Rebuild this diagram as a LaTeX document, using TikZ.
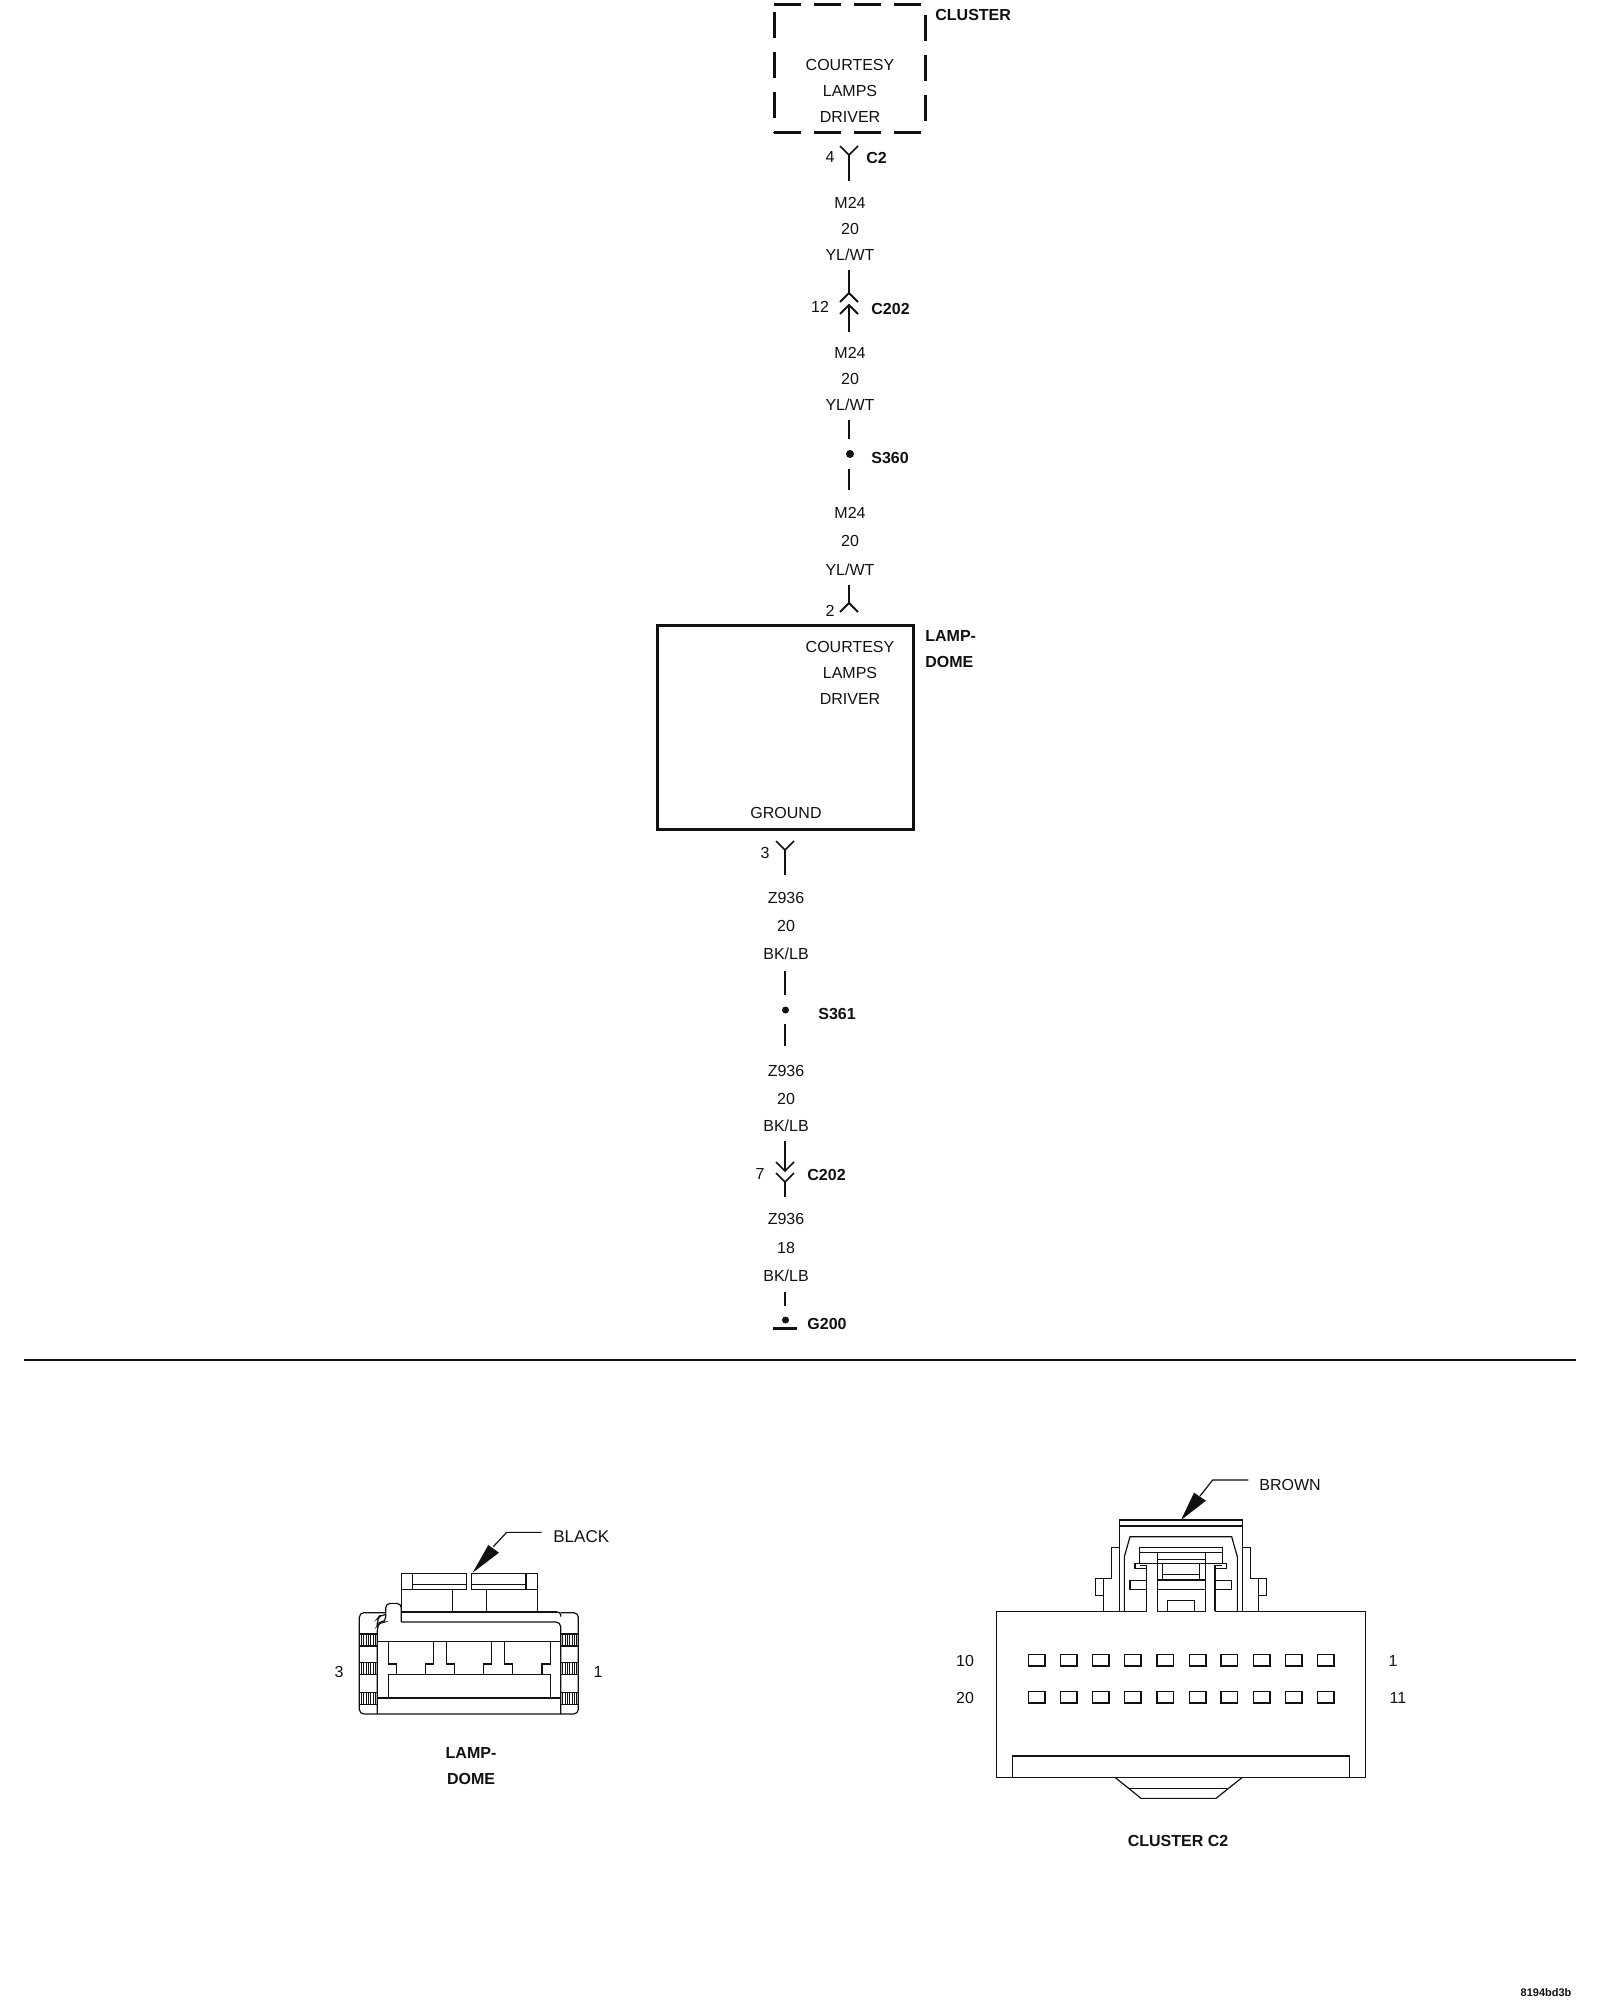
\documentclass[tikz,border=0pt]{standalone}
\usepackage{fontspec}
\setmainfont{Liberation Sans}
\usepackage{tikz}
\usetikzlibrary{positioning}

\definecolor{ink}{HTML}{111111}
\tikzset{
  lbl/.style={font=\fontsize{8}{10}\selectfont,text=ink,inner sep=0pt,text height=5.7pt,text depth=0pt,yshift=-0.2pt},
  tag/.style={lbl,font=\fontsize{8}{10}\selectfont\bfseries,anchor=west},
  wire/.style={draw=ink,line width=0.75pt},
  part/.style={draw=ink,line width=0.6pt,line join=miter},
  dashbox/.style={draw=ink,line width=1.4pt,dash pattern=on 13.3pt off 6.7pt},
  splice/.style={circle,fill=ink,inner sep=0pt,minimum size=4pt},
  forkup/.pic={\draw[wire] (-9,-9) -- (0,0) -- (9,-9);},
  forkdn/.pic={\draw[wire,line width=0.95pt] (-9,9) -- (0,0) -- (9,9);}
}

\begin{document}
\begin{tikzpicture}[x=0.5pt,y=-0.5pt]
   \useasboundingbox (0,0) rectangle (1600,2000);

   % cluster box
   \draw (849.7,68.35) node[minimum width=75pt,minimum height=63.65pt,inner sep=0pt] (cluster) {};
   \path[dashbox] (cluster.north west) edge (cluster.north east);
   \path[dashbox] (cluster.south west) edge (cluster.south east);
   \path[dashbox,dash phase=16.35pt] (cluster.north west) edge (cluster.south west);
   \path[dashbox,dash phase=14.85pt] (cluster.north east) edge (cluster.south east);
   \draw (935,14) node[tag] (clusterlbl) {CLUSTER};
   \draw (850,64) node[lbl] (courtesy) {COURTESY};
   \draw (850,90) node[lbl] (lamps) {LAMPS};
   \draw (850,116) node[lbl] (driver) {DRIVER};

   % upper wire
   \coordinate (c2a) at (849,155);
   \coordinate (c2b) at (849,181.5);
   \pic at (c2a) {forkup};
   \path[wire] (c2a) edge (c2b);
   \draw (830,156) node[lbl] (pinfour) {4};
   \draw (866,157) node[tag] (c2lbl) {C2};
   \draw (850,202) node[lbl] (mA) {M24};
   \draw (850,228) node[lbl] (mAg) {20};
   \draw (850,254) node[lbl] (mAc) {YL/WT};

   \coordinate (cAa) at (849,270);
   \coordinate (cAb) at (849,293);
   \coordinate (cAc) at (849,305);
   \coordinate (cAd) at (849,332);
   \pic at (cAb) {forkdn};
   \pic at (cAc) {forkdn};
   \path[wire] (cAa) edge (cAb);
   \path[wire] (cAc) edge (cAd);
   \draw (820,306) node[lbl] (pintwelve) {12};
   \draw (871,308) node[tag] (c202up) {C202};
   \draw (850,352) node[lbl] (mB) {M24};
   \draw (850,378) node[lbl] (mBg) {20};
   \draw (850,404) node[lbl] (mBc) {YL/WT};

   \coordinate (sAa) at (849,420);
   \coordinate (sAb) at (849,439);
   \coordinate (sAc) at (849,469);
   \coordinate (sAd) at (849,490);
   \path[wire] (sAa) edge (sAb);
   \draw (850,454) node[splice] (s360) {};
   \path[wire] (sAc) edge (sAd);
   \draw (871,457) node[tag] (s360lbl) {S360};
   \draw (850,512) node[lbl] (mC) {M24};
   \draw (850,540) node[lbl] (mCg) {20};
   \draw (850,569) node[lbl] (mCc) {YL/WT};

   \coordinate (pAa) at (849,585);
   \coordinate (pAb) at (849,603);
   \pic at (pAb) {forkdn};
   \path[wire] (pAa) edge (pAb);
   \draw (830,610) node[lbl] (pintwo) {2};

   % lamp box
   \draw (785,727) node[draw=ink,line width=1.5pt,minimum width=128pt,minimum height=102pt,inner sep=0pt] (lamp) {};
   \draw (925,635) node[tag] (lamplbl) {LAMP-};
   \draw (925,661) node[tag] (domelbl) {DOME};
   \draw (850,646) node[lbl] (courtesyB) {COURTESY};
   \draw (850,672) node[lbl] (lampsB) {LAMPS};
   \draw (850,698) node[lbl] (driverB) {DRIVER};
   \draw (786,812) node[lbl] (ground) {GROUND};

   % lower wire
   \coordinate (gAa) at (785,850);
   \coordinate (gAb) at (785,875);
   \pic at (gAa) {forkup};
   \path[wire] (gAa) edge (gAb);
   \draw (765,852) node[lbl] (pinthree) {3};
   \draw (786,897) node[lbl] (zA) {Z936};
   \draw (786,925.5) node[lbl] (zAg) {20};
   \draw (786,953) node[lbl] (zAc) {BK/LB};

   \coordinate (sBa) at (785,971);
   \coordinate (sBb) at (785,995);
   \coordinate (sBc) at (785,1024);
   \coordinate (sBd) at (785,1046);
   \path[wire] (sBa) edge (sBb);
   \draw (785.5,1010) node[splice,minimum size=3.5pt] (s361) {};
   \path[wire] (sBc) edge (sBd);
   \draw (818,1013) node[tag] (s361lbl) {S361};
   \draw (786,1070) node[lbl] (zB) {Z936};
   \draw (786,1098) node[lbl] (zBg) {20};
   \draw (786,1125) node[lbl] (zBc) {BK/LB};

   \coordinate (cBa) at (785,1141);
   \coordinate (cBb) at (785,1171);
   \coordinate (cBc) at (785,1182);
   \coordinate (cBd) at (785,1197);
   \pic at (cBb) {forkup};
   \pic at (cBc) {forkup};
   \path[wire] (cBa) edge (cBb);
   \path[wire] (cBc) edge (cBd);
   \draw (760,1173) node[lbl] (pinseven) {7};
   \draw (807,1174) node[tag] (c202dn) {C202};
   \draw (786,1218) node[lbl] (zC) {Z936};
   \draw (786,1247) node[lbl] (zCg) {18};
   \draw (786,1275) node[lbl] (zCc) {BK/LB};

   \coordinate (gBa) at (785,1292);
   \coordinate (gBb) at (785,1306);
   \path[wire] (gBa) edge (gBb);
   \draw (785.5,1320) node[splice,minimum size=3.5pt] (g200) {};
   \coordinate (barA) at (773,1328);
   \coordinate (barB) at (797,1328);
   \path[draw=ink,line width=1.5pt] (barA) edge (barB);
   \draw (807,1323) node[tag] (g200lbl) {G200};

   % divider
   \coordinate (ruleA) at (24,1360);
   \coordinate (ruleB) at (1576,1360);
   \path[draw=ink,line width=1.2pt] (ruleA) edge (ruleB);

   % lamp connector view
   \begin{scope}[shift={(320,1500)},scale=1/3]
      \draw[part] (244,336) -- (244,220) -- (440,220) -- (440,268) -- (244,268);
      \draw[part] (278,220) -- (278,268);
      \draw[part] (278,253) -- (440,253);
      \draw[part] (652,336) -- (652,220) -- (455,220) -- (455,268) -- (652,268);
      \draw[part] (618,220) -- (618,268);
      \draw[part] (455,253) -- (618,253);
      \draw[part] (397,268) -- (397,336);
      \draw[part] (499,268) -- (499,336);
      \draw[part,rounded corners=2.3pt] (197,338) -- (118,338) -- (118,642) -- (775,642) -- (775,338) -- (722,338);
      \draw[part,rounded corners=2.3pt] (197,344) -- (182,344) -- (172,356) -- (172,378);
      \draw[part] (244,336) -- (710,336);
      \draw[part,rounded corners=1.5pt] (710,336) -- (722,336) -- (722,350);
      \draw[part,rounded corners=2.3pt] (172,642) -- (172,378) -- (180,366) -- (197,366) -- (197,310) -- (244,310) -- (244,366);
      \draw[part,rounded corners=2.3pt] (244,366) -- (722,366) -- (722,642);
      \draw[part] (172,424) -- (722,424);
      \draw[part] (172,594) -- (722,594);
      \draw[part] (205,424) -- (205,492) -- (230,492) -- (230,524) -- (317,524) -- (317,492) -- (340,492) -- (340,424);
      \draw[part] (379,424) -- (379,492) -- (404,492) -- (404,524) -- (491,524) -- (491,492) -- (515,492) -- (515,424);
      \draw[part] (553,424) -- (553,492) -- (577,492) -- (577,524) -- (666,524) -- (666,492) -- (691,492) -- (691,424);
      \draw[part] (205,594) -- (205,524) -- (691,524) -- (691,594);
      \foreach \ytop in {402,488,578} {
         \draw[part] (118,\ytop) rectangle (172,\ytop+36);
         \draw[part] (722,\ytop) rectangle (775,\ytop+36);
         \foreach \xh in {124,131,138,145,152,159,166} {
            \draw[draw=ink,line width=0.4pt] (\xh,\ytop) -- (\xh,\ytop+36);
            \draw[draw=ink,line width=0.4pt] (\xh+604,\ytop) -- (\xh+604,\ytop+36);
         }
      }
      \coordinate (blackA) at (665,97);
      \coordinate (blackB) at (560,97);
      \coordinate (blackC) at (520,140);
      \draw[part] (blackA) -- (blackB) -- (blackC);
      \fill[ink] (458,218) -- (505,135) -- (537,158) -- cycle;
   \end{scope}
   \draw (553,1536) node[lbl,anchor=west,font=\fontsize{8.5}{10}\selectfont] (black) {BLACK};
   \draw (339,1671) node[lbl] (pinthreeB) {3};
   \draw (598,1671) node[lbl] (pinoneB) {1};
   \draw (471,1752) node[lbl,font=\fontsize{8}{10}\selectfont\bfseries] (lampname) {LAMP-};
   \draw (471,1778) node[lbl,font=\fontsize{8}{10}\selectfont\bfseries] (domename) {DOME};

   % cluster connector view, latch
   \begin{scope}[shift={(1040,1460)},scale=1/3]
      \draw[part] (238,454) -- (238,180) -- (607,180) -- (607,454);
      \draw[part] (238,198) -- (607,198);
      \draw[part] (238,262) -- (214,262) -- (214,356) -- (190,356) -- (190,454);
      \draw[part] (190,356) -- (166,356) -- (166,407) -- (190,407);
      \draw[part] (607,262) -- (632,262) -- (632,356) -- (656,356) -- (656,454);
      \draw[part] (656,356) -- (680,356) -- (680,407) -- (656,407);
      \draw[part] (253,454) -- (253,290) -- (270,230) -- (575,230) -- (592,290) -- (592,454);
      \draw[part] (299,310) -- (299,262) -- (547,262) -- (547,310);
      \draw[part] (299,278) -- (547,278);
      \draw[part] (352,298) -- (497,298);
      \draw[part] (285,310) -- (560,310);
      \draw[part] (285,310) -- (285,326) -- (320,326);
      \draw[part] (560,310) -- (560,326) -- (525,326);
      \draw[part] (299,316) -- (320,316) -- (320,454);
      \draw[part] (547,316) -- (525,316) -- (525,454);
      \draw[part] (352,278) -- (352,454);
      \draw[part] (497,278) -- (497,454);
      \draw[part] (367,310) -- (367,360);
      \draw[part] (478,310) -- (478,360);
      \draw[part] (367,343) -- (478,343);
      \draw[part] (352,360) -- (497,360);
      \draw[part] (352,388) -- (497,388);
      \draw[part] (320,362) -- (270,362) -- (270,388) -- (320,388);
      \draw[part] (525,362) -- (575,362) -- (575,388) -- (525,388);
      \draw[part] (382,454) -- (382,422) -- (463,422) -- (463,454);
      \coordinate (brownA) at (625,60);
      \coordinate (brownB) at (518,60);
      \coordinate (brownC) at (480,108);
      \draw[part] (brownA) -- (brownB) -- (brownC);
      \fill[ink] (423,180) -- (462,98) -- (498,122) -- cycle;
   \end{scope}
   \draw (1259,1484) node[lbl,anchor=west] (brown) {BROWN};

   % cluster connector view, body
   \begin{scope}[shift={(980,1600)},scale=1/3]
      \draw[part] (500,34) -- (50,34) -- (50,532) -- (1157,532) -- (1157,34) -- (706,34);
      \draw[part] (532,34) -- (677,34);
      \draw[part] (97,532) -- (97,468) -- (1108,468) -- (1108,532);
      \draw[part] (405,532) -- (483,595) -- (708,595) -- (787,532);
      \draw[part] (445,565) -- (742,565);
      \foreach \xs in {145,241,337,433,531,628,723,820,916,1012} {
         \draw[part] (\xs,163) rectangle (\xs+50,198);
         \draw[part] (\xs,274) rectangle (\xs+50,309);
      }
   \end{scope}
   \draw (965,1660) node[lbl] (pinten) {10};
   \draw (965,1697) node[lbl] (pintwenty) {20};
   \draw (1393,1660) node[lbl] (pinone) {1};
   \draw (1398,1697) node[lbl] (pineleven) {11};
   \draw (1178,1840) node[lbl,font=\fontsize{8}{10}\selectfont\bfseries] (clusterc2) {CLUSTER C2};

   \draw (1546,1992) node[lbl,text height=4pt,font=\fontsize{5.5}{7}\selectfont\bfseries] (drawingno) {8194bd3b};

\end{tikzpicture}
\end{document}
